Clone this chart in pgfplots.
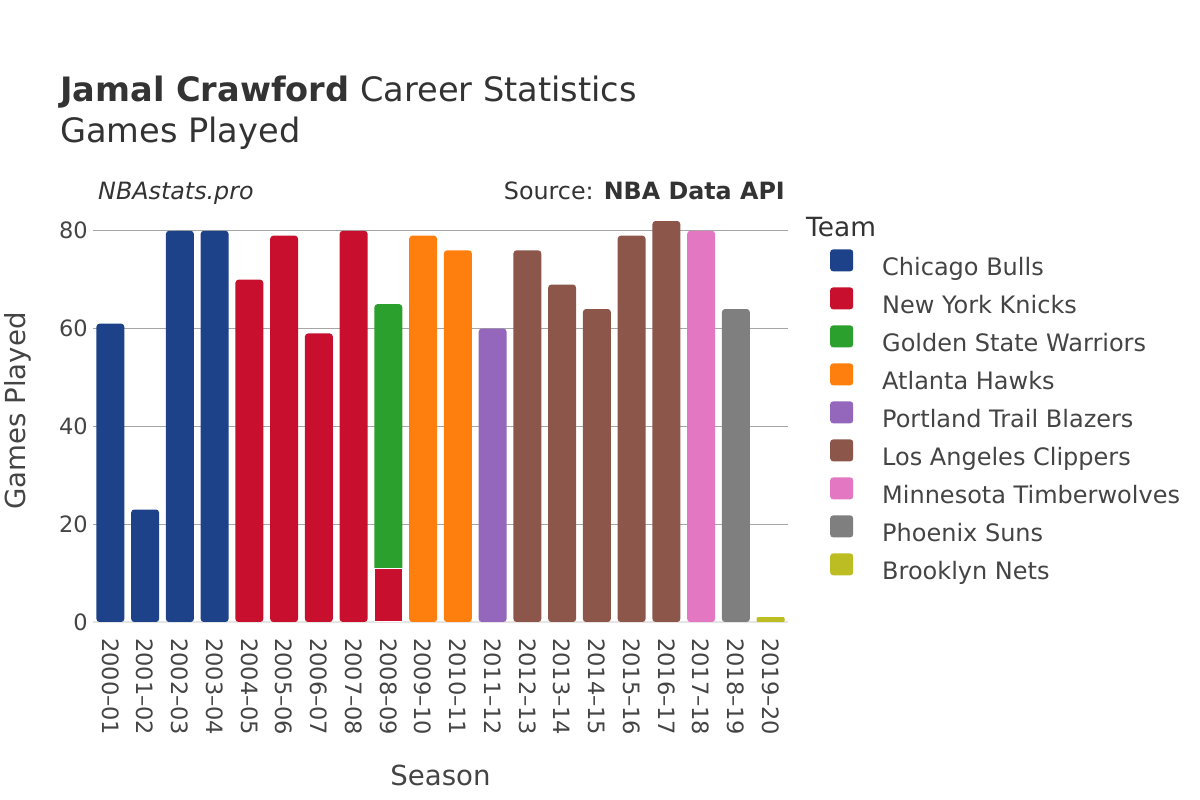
\documentclass[border=0pt]{standalone}
\usepackage{fontspec}
\setmainfont{DejaVu Sans}
\usepackage{pgfplots}
\pgfplotsset{compat=1.18}

\definecolor{bulls}{HTML}{1D428A}
\definecolor{knicks}{HTML}{C8102E}
\definecolor{gsw}{HTML}{2CA02C}
\definecolor{hawks}{HTML}{FF7F0E}
\definecolor{blazers}{HTML}{9467BD}
\definecolor{clippers}{HTML}{8C564B}
\definecolor{wolves}{HTML}{E377C2}
\definecolor{suns}{HTML}{7F7F7F}
\definecolor{nets}{HTML}{BCBD22}
\definecolor{txt}{HTML}{444444}
\definecolor{ttl}{HTML}{333333}

\pgfplotsset{
  swatch/.style={legend image code/.code={\path[fill=#1, draw=none, rounded corners=3pt] (0pt,-2.5pt) rectangle (23pt,19.5pt);}},
  team/.style={fill=#1, draw=none, rounded corners=3pt},
}

\begin{document}
\begin{tikzpicture}[x=1pt,y=1pt]
\useasboundingbox (0pt,0pt) rectangle (1200pt,800pt);
\begin{axis}[
  at={(93pt,178pt)}, anchor=south west,
  scale only axis, width=695pt, height=422pt,
  xmin=-0.5, xmax=19.5, ymin=0, ymax=86.3,
  ybar, bar width=0.8, bar shift=0pt,
  axis line style={draw=none},
  major tick length=0pt,
  xtick={0,...,19},
  xticklabels={2000–01,2001–02,2002–03,2003–04,2004–05,2005–06,2006–07,2007–08,2008–09,2009–10,2010–11,2011–12,2012–13,2013–14,2014–15,2015–16,2016–17,2017–18,2018–19,2019–20},
  xticklabel style={yshift=-16pt, rotate=-90, anchor=west, inner sep=0pt},
  ytick={20,40,60,80},
  extra y ticks={0},
  extra y tick style={grid style={color=black!10, line width=2pt}},
  ymajorgrids,
  grid style={color=black!35, line width=1pt},
  yticklabel style={anchor=east, inner sep=0pt, xshift=-5pt},
  /pgf/number format/assume math mode=true,
  tick label style={font=\fontsize{22.5}{26}\selectfont, text=txt},
  xlabel={Season}, ylabel={Games Played},
  every axis x label/.style={at={(axis description cs:0.5,-0.3886)}, anchor=base,
    font=\fontsize{27.6}{32}\selectfont, text=txt},
  every axis y label/.style={at={(axis description cs:-0.108,0.5)}, rotate=90, anchor=center,
    font=\fontsize{27.6}{32}\selectfont, text=txt},
  legend style={at={(axis description cs:1.0604,0.8835)}, anchor=north west,
    draw=none, fill=none, inner sep=0pt, row sep=5.5pt, column sep=29pt,
    font=\fontsize{24}{28}\selectfont, text=txt,
    nodes={inner sep=0pt, text height=20pt, text depth=6pt}},
  legend cell align=left,
]
% Golden State first (full 2008-09 total), New York's part drawn over it
\addplot[team=gsw, forget plot] coordinates {(8,65)};
\addplot[team=bulls, forget plot] coordinates {(0,61)(1,23)(2,80)(3,80)};
\addplot[team=knicks, forget plot] coordinates {(4,70)(5,79)(6,59)(7,80)};
\addplot[fill=knicks, draw=white, line width=1pt, forget plot] coordinates {(8,11)};
\addplot[team=hawks, forget plot] coordinates {(9,79)(10,76)};
\addplot[team=blazers, forget plot] coordinates {(11,60)};
\addplot[team=clippers, forget plot] coordinates {(12,76)(13,69)(14,64)(15,79)(16,82)};
\addplot[team=wolves, forget plot] coordinates {(17,80)};
\addplot[team=suns, forget plot] coordinates {(18,64)};
\addplot[team=nets, forget plot, rounded corners=1pt] coordinates {(19,1)};

\addlegendimage{swatch=bulls}\addlegendentry{Chicago Bulls}
\addlegendimage{swatch=knicks}\addlegendentry{New York Knicks}
\addlegendimage{swatch=gsw}\addlegendentry{Golden State Warriors}
\addlegendimage{swatch=hawks}\addlegendentry{Atlanta Hawks}
\addlegendimage{swatch=blazers}\addlegendentry{Portland Trail Blazers}
\addlegendimage{swatch=clippers}\addlegendentry{Los Angeles Clippers}
\addlegendimage{swatch=wolves}\addlegendentry{Minnesota Timberwolves}
\addlegendimage{swatch=suns}\addlegendentry{Phoenix Suns}
\addlegendimage{swatch=nets}\addlegendentry{Brooklyn Nets}
\end{axis}

\node[anchor=base west, inner sep=0pt, text=ttl, font=\fontsize{33.6}{40}\selectfont] at (60pt,698pt) {\textbf{Jamal Crawford} Career Statistics};
\node[anchor=base west, inner sep=0pt, text=ttl, font=\fontsize{33.6}{40}\selectfont] at (60pt,657pt) {Games Played};
\node[anchor=base west, inner sep=0pt, text=ttl, font=\fontsize{23.8}{28}\selectfont\itshape] at (98pt,600pt) {NBAstats.pro};
\node[anchor=base east, inner sep=0pt, text=ttl, font=\fontsize{23.8}{28}\selectfont] at (785pt,600pt) {Source: \textbf{NBA Data API}};
\node[anchor=base west, inner sep=0pt, text=ttl, font=\fontsize{26.4}{30}\selectfont] at (806pt,563pt) {Team};
\end{tikzpicture}
\end{document}
